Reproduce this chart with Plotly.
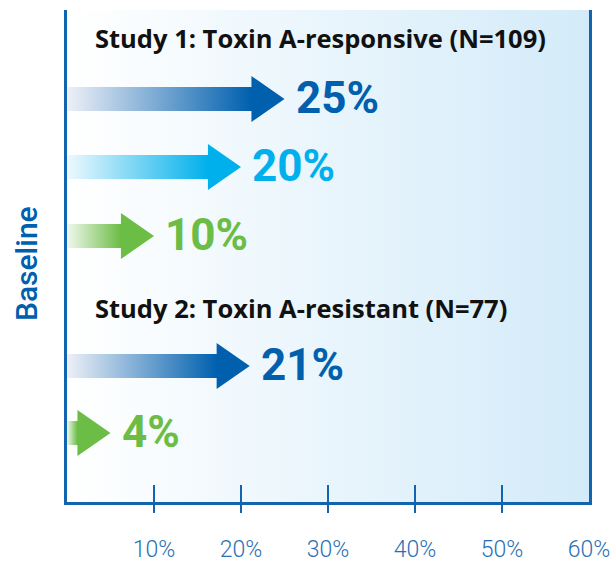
import plotly.graph_objects as go

# ---- data ----
study_titles = ["Study 1: Toxin A-responsive (N=109)", "Study 2: Toxin A-resistant (N=77)"]
study1_values = [25, 20, 10]
study2_values = [21, 4]
x_tick_values = [10, 20, 30, 40, 50, 60]
x_tick_labels = ["10%", "20%", "30%", "40%", "50%", "60%"]
y_axis_title = "Baseline"

# ---- styles ----
DARK = "#0060ae"
LIGHT = "#00b0ec"
GREEN = "#6cbd45"
AXIS = "#1264ae"
study1_colors = [DARK, LIGHT, GREEN]
study2_colors = [DARK, GREEN]
tint = {DARK: "#eef0f7", LIGHT: "#eef9fd", GREEN: "#f1f8ee"}

W, H = 616, 563
M = dict(l=67, r=27, t=10, b=61)
PH = H - M["t"] - M["b"]          # plot height in px (y axis uses px units)
XMAX = 60

# row layout (px from top of plot area)
title_rows = [28, 298]
study1_rows = [89, 157, 226]
study2_rows = [356, 423]

HEAD_LEN = 3.8       # in % units
MIN_SHAFT = 1.2
SHAFT_H = 12
HEAD_H = 23

fig = go.Figure()

# background gradient
fig.add_trace(go.Scatter(
    x=[0, XMAX, XMAX, 0, 0], y=[-3, -3, PH, PH, -3], mode="lines",
    fill="toself", line=dict(width=0), hoverinfo="skip", showlegend=False,
    fillgradient=dict(type="horizontal", start=0, stop=XMAX,
                      colorscale=[[0, "#ffffff"], [1, "#d3ebf9"]]),
))

annotations = []

def add_arrow(value, yc, color):
    shaft_end = max(value - HEAD_LEN, MIN_SHAFT)
    tip = shaft_end + HEAD_LEN
    xs = [0, shaft_end, shaft_end, tip, shaft_end, shaft_end, 0, 0]
    ys = [yc - SHAFT_H, yc - SHAFT_H, yc - HEAD_H, yc, yc + HEAD_H, yc + SHAFT_H, yc + SHAFT_H, yc - SHAFT_H]
    fig.add_trace(go.Scatter(
        x=xs, y=ys, mode="lines", fill="toself", line=dict(width=0),
        hoverinfo="skip", showlegend=False,
        fillgradient=dict(type="horizontal", start=0, stop=shaft_end,
                          colorscale=[[0, tint[color]], [1, color]]),
    ))
    annotations.append(dict(
        x=tip, y=yc, xref="x", yref="y", text=f"{value}%", showarrow=False,
        xanchor="left", yanchor="middle", xshift=9, yshift=1,
        font=dict(family="Roboto, Arial, sans-serif", size=44, color=color, weight="bold"),
    ))

for v, yc, c in zip(study1_values, study1_rows, study1_colors):
    add_arrow(v, yc, c)
for v, yc, c in zip(study2_values, study2_rows, study2_colors):
    add_arrow(v, yc, c)

for t, yc in zip(study_titles, title_rows):
    annotations.append(dict(
        x=0, y=yc, xref="x", yref="y", text=t, showarrow=False,
        xanchor="left", yanchor="middle", xshift=26,
        font=dict(family="Open Sans, Arial, sans-serif", size=25.5, color="#111111", weight="bold"),
    ))

# y-axis title as rotated text left of the axis
annotations.append(dict(
    x=0, y=1 - (264 - M["t"]) / PH, xref="paper", yref="paper", text=y_axis_title,
    showarrow=False, textangle=-90, xanchor="center", yanchor="middle", xshift=-41,
    font=dict(family="Roboto, Arial, sans-serif", size=30, color=DARK, weight=500),
))

shapes = []
for v in x_tick_values[:-1]:
    shapes.append(dict(type="line", xref="x", yref="paper", x0=v, x1=v,
                       y0=-11 / PH, y1=17 / PH, line=dict(color=AXIS, width=2)))

fig.update_layout(
    width=W, height=H, margin=M,
    paper_bgcolor="white", plot_bgcolor="white",
    showlegend=False, annotations=annotations, shapes=shapes,
    xaxis=dict(range=[0, XMAX], showgrid=False, zeroline=False, automargin=False,
               showline=True, linecolor=AXIS, linewidth=3,
               tickvals=x_tick_values, ticktext=x_tick_labels, ticks="",
               ticklabelstandoff=24,
               tickfont=dict(family="Roboto, Arial, sans-serif", size=23, color="#2a6fb5", weight=300)),
    yaxis=dict(range=[PH, 0], showgrid=False, zeroline=False, automargin=False,
               showline=True, mirror=True, linecolor=AXIS, linewidth=3,
               showticklabels=False, ticks=""),
)

fig.write_html("out.html", config={"displayModeBar": False},
               post_script="document.body.style.margin='0';document.body.style.overflow='hidden';")
